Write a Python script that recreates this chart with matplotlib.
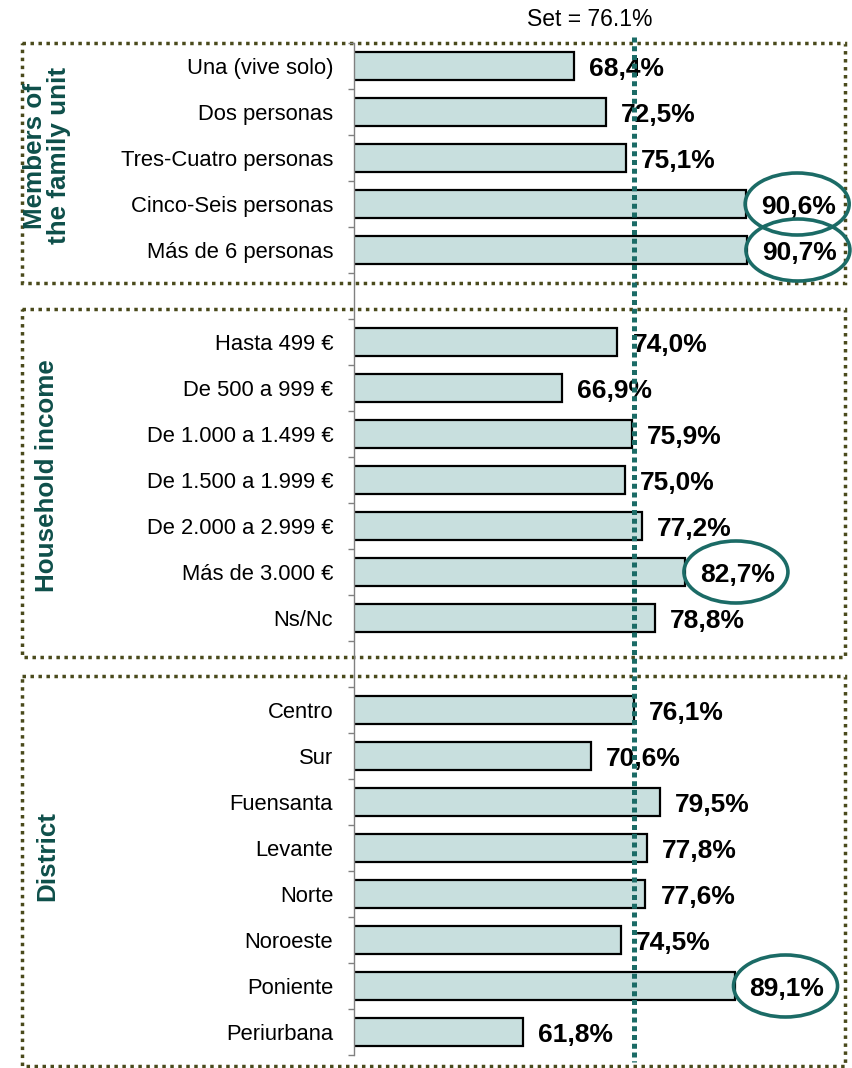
import matplotlib
matplotlib.use("Agg")
import matplotlib.pyplot as plt
from matplotlib.patches import Rectangle, Ellipse
from matplotlib.transforms import blended_transform_factory

plt.rcParams['font.family'] = ['Liberation Sans', 'DejaVu Sans']

# ---------------- data ----------------
group_titles = ["Members of\nthe family unit", "Household income", "District"]

family_labels = ["Una (vive solo)", "Dos personas", "Tres-Cuatro personas",
                 "Cinco-Seis personas", "Más de 6 personas"]
family_values = [68.4, 72.5, 75.1, 90.6, 90.7]
family_circled = [False, False, False, True, True]

income_labels = ["Hasta 499 €", "De 500 a 999 €", "De 1.000 a 1.499 €",
                 "De 1.500 a 1.999 €", "De 2.000 a 2.999 €", "Más de 3.000 €", "Ns/Nc"]
income_values = [74.0, 66.9, 75.9, 75.0, 77.2, 82.7, 78.8]
income_circled = [False, False, False, False, False, True, False]

district_labels = ["Centro", "Sur", "Fuensanta", "Levante", "Norte",
                   "Noroeste", "Poniente", "Periurbana"]
district_values = [76.1, 70.6, 79.5, 77.8, 77.6, 74.5, 89.1, 61.8]
district_circled = [False, False, False, False, False, False, True, False]

set_value = 76.1
set_label = "Set = 76.1%"

groups_labels = [family_labels, income_labels, district_labels]
groups_values = [family_values, income_values, district_values]
groups_circled = [family_circled, income_circled, district_circled]

# ---------------- style ----------------
W, H, DPI = 853, 1068, 100
bar_fill = "#C8DFDE"
teal = "#1B6B66"
title_col = "#0E4F4A"
box_col = "#4A4A1C"

fig = plt.figure(figsize=(W / DPI, H / DPI), dpi=DPI)
ax_left, ax_right, ax_top, ax_bot = 354, 819, 43, 1055
ax = fig.add_axes([ax_left / W, 1 - ax_bot / H, (ax_right - ax_left) / W, (ax_bot - ax_top) / H])
xmin, xmax = 40, 100
ax.set_xlim(xmin, xmax)
px_per_unit = (ax_right - ax_left) / (xmax - xmin)

# build flat positions with a gap slot between groups
positions, labels, values, circled, group_ranges = [], [], [], [], []
pos = 0
for gi, (lab, val, cir) in enumerate(zip(groups_labels, groups_values, groups_circled)):
    start = pos
    for l, v, c in zip(lab, val, cir):
        positions.append(pos); labels.append(l); values.append(v); circled.append(c)
        pos += 1
    group_ranges.append((start, pos - 1))
    if gi < len(groups_labels) - 1:
        pos += 1  # gap
n_slots = pos
ax.set_ylim(n_slots - 0.5, -0.5)
slot_px = (ax_bot - ax_top) / n_slots

ax.barh(positions, values, left=0, height=0.63, color=bar_fill,
        edgecolor="black", linewidth=1.6, zorder=2)

# category labels
ax.set_yticks(positions)
ax.set_yticklabels(labels, fontsize=15.8, color="black")
ax.tick_params(axis="y", which="major", length=0, pad=15)
ax.set_yticks([i - 0.5 for i in range(n_slots + 1)], minor=True)
ax.tick_params(axis="y", which="minor", length=4, width=1, color="#808080", direction="out")
ax.xaxis.set_visible(False)
for s in ["top", "right", "bottom"]:
    ax.spines[s].set_visible(False)
ax.spines["left"].set_color("#808080")
ax.spines["left"].set_linewidth(1)
ax.patch.set_alpha(0)

# value labels + ellipses
label_off_px = 15
ell_w_px, ell_h_px = 104, 62
for p, v, c in zip(positions, values, circled):
    txt = f"{v:.1f}".replace(".", ",") + "%"
    ax.annotate(txt, xy=(v, p), xytext=(label_off_px * 72 / DPI, 0), textcoords="offset points",
                ha="left", va="center_baseline", fontsize=19, fontweight="bold", color="black", zorder=4)
    if c:
        cx = v + (label_off_px + 36) / px_per_unit
        ax.add_patch(Ellipse((cx, p), ell_w_px / px_per_unit, ell_h_px / slot_px,
                             fill=False, edgecolor=teal, linewidth=2.6, clip_on=False, zorder=5))

# set reference line
ax.plot([set_value, set_value], [-0.5 - 6 / slot_px, n_slots - 0.5 + 7 / slot_px],
        color=teal, linewidth=3.6, linestyle=(0, (1, 0.75)), solid_capstyle="butt",
        dash_capstyle="butt", clip_on=False, zorder=6)
set_x_px = ax_left + (set_value - xmin) * px_per_unit
fig.text((set_x_px - 44) / W, 1 - 19 / H, set_label, ha="center", va="center", fontsize=16.5, color="black")

# group boxes and titles
trans = blended_transform_factory(fig.transFigure, ax.transData)
top_pads = [0.0, 0.22, 0.24]
bot_pads = [0.22, 0.35, 0.24]
title_shift = [-0.05, -0.1, -0.33]
for (s, e), title, tp, bp, ts in zip(group_ranges, group_titles, top_pads, bot_pads, title_shift):
    y0 = s - 0.5 - tp
    y1 = e + 0.5 + bp
    ax.add_patch(Rectangle((22 / W, y0), (845 - 22) / W, y1 - y0, transform=trans, fill=False,
                           edgecolor=box_col, linewidth=2.5, linestyle=(0, (1, 1.3)),
                           clip_on=False, zorder=1))
    ax.text(47 / W, (s + e) / 2 + ts, title, transform=trans, rotation=90, ha="center", va="center",
            fontsize=18.7, fontweight="bold", color=title_col, linespacing=1.0, multialignment="center")

fig.savefig("out.png", dpi=DPI)
